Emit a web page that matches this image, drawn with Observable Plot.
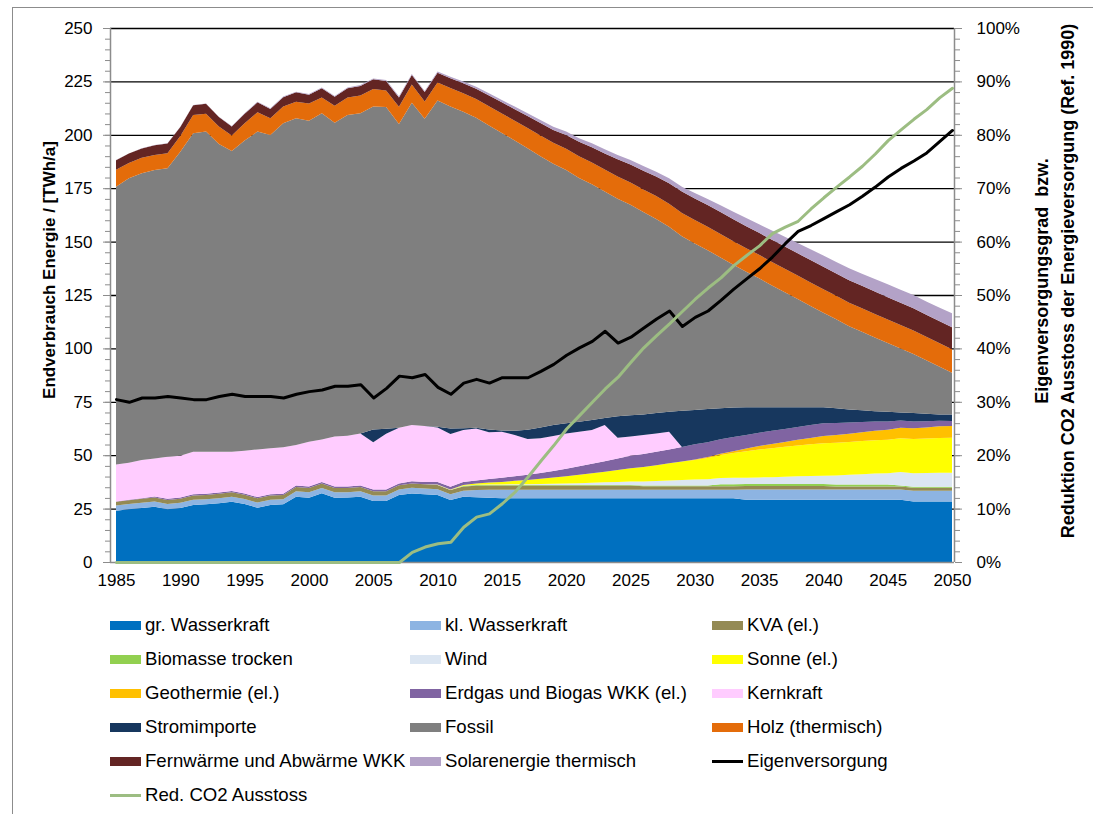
<!DOCTYPE html>
<html>
<head>
<meta charset="utf-8">
<script src="https://cdn.jsdelivr.net/npm/d3@7"></script>
<script src="https://cdn.jsdelivr.net/npm/@observablehq/plot@0.6"></script>
<style>
html, body { margin:0; padding:0; background:#fff; overflow:hidden; }
#wrap { position:relative; width:1093px; height:814px; overflow:hidden; font-family:"Liberation Sans", Arial, sans-serif; color:#000; }
#frame { position:absolute; left:12px; top:7px; width:1200px; height:1000px; border:1px solid #8c8c8c; box-sizing:border-box; }
#chart { position:absolute; left:0; top:0; }
.ytl { position:absolute; left:50px; top:270px; transform:translate(-50%,-50%) rotate(-90deg); white-space:nowrap; font-weight:bold; font-size:17px; }
.ytr { position:absolute; left:1055px; top:281px; transform:translate(-50%,-50%) rotate(-90deg); white-space:nowrap; font-weight:bold; font-size:18px; line-height:26px; text-align:center; }
.lg { position:absolute; height:20px; display:flex; align-items:center; white-space:nowrap; font-size:18.6px; }
.sw { display:inline-block; width:31px; height:9px; margin-right:4px; flex:none; }
.ln { display:inline-block; width:31px; height:3px; margin-right:4px; flex:none; }
</style>
</head>
<body>
<div id="wrap">
  <div id="frame"></div>
  <div id="chart"></div>
  <div class="ytl">Endverbrauch Energie / [TWh/a]</div>
  <div class="ytr">Eigenversorgungsgrad&nbsp; bzw.<br>Reduktion CO2 Ausstoss der Energieversorgung (Ref. 1990)</div>
  <div id="legend"></div>
</div>
<script>
// ---------- data (TWh/a per year 1985..2050) ----------
const years = d3.range(1985, 2051);

const seriesNames = ["gr. Wasserkraft", "kl. Wasserkraft", "KVA  (el.)", "Biomasse trocken", "Wind",
  "Sonne (el.)", "Geothermie  (el.)", "Erdgas und Biogas WKK (el.)", "Kernkraft", "Stromimporte",
  "Fossil", "Holz (thermisch)", "Fernwärme und Abwärme WKK", "Solarenergie thermisch"];
const seriesColors = ["#0070C0", "#8DB4E2", "#948A54", "#92D050", "#DCE6F2",
  "#FFFF00", "#FFC000", "#8064A2", "#FFCCFF", "#17375E",
  "#7F7F7F", "#E46C0A", "#632523", "#B3A2C7"];

const grWasser = [24.0,24.7,25.3,25.9,24.7,25.3,26.7,27.0,27.5,28.2,
  27.1,25.4,26.7,27.0,30.6,30.1,32.2,30.1,30.2,30.6,
  28.6,28.6,31.4,32.1,31.7,31.4,29.0,30.6,30.3,30.1,
  29.8,29.8,29.8,29.8,29.8,29.8,29.8,29.8,29.8,29.8,
  29.8,29.8,29.8,29.8,29.8,29.8,29.8,29.8,29.8,
  29.1,29.1,29.1,29.1,29.1,29.1,29.1,29.1,29.1,29.1,29.1,29.1,29.1,
  28.3,28.3,28.3,28.3];
const klWasser = [2.4,2.4,2.4,2.4,2.4,2.4,2.4,2.4,2.4,2.4,2.4,2.4,2.4,2.4,
  2.5,2.5,2.5,2.5,2.5,2.5,2.5,2.5,2.5,
  2.7,2.7,2.7,2.7,2.7,
  3.4,3.7,
  4.0,4.0,4.0,4.0,4.0,4.0,4.0,4.0,4.0,4.0,4.0,4.0,4.0,4.0,4.0,4.0,4.0,4.0,4.0,
  4.8,4.8,4.8,4.8,4.8,4.8,4.8,4.8,4.8,4.8,4.8,4.8,4.8,
  5.0,5.0,5.0,5.0];
const kva = [1.8,1.8,1.9,1.9,1.9,1.9,
  2.0,2.0,2.0,2.0,2.0,2.0,2.0,2.0,2.0,2.0,2.0,2.0,2.0,2.0,2.0,2.0,2.0,2.0,2.0,2.0,
  2.0,2.0,2.0,2.0,2.0,2.0,2.0,2.0,2.0,2.0,2.0,2.0,2.0,2.0,2.0,
  1.7,1.7,1.7,1.7,1.7,1.7,1.7,1.7,1.7,1.7,1.7,1.7,1.7,1.7,1.7,
  1.5,1.5,1.5,1.5,1.5,1.5,1.5,1.5,1.5,1.5];
const biomasse = [0,0,0,0,0,0,0,0,0,0,0,0,0,0,0,0,0,0,0,0,0,0,0,0,0,0,0,
  0.3,0.3,0.3,0.3,0.3,0.3,0.3,0.3,0.3,0.3,0.3,0.3,0.3,0.3,0.3,0.3,0.3,0.3,0.3,0.3,
  0.9,0.9,0.9,0.9,0.9,0.9,0.9,0.9,0.9,0.9,0.9,0.9,0.9,0.9,
  0.4,0.4,0.4,0.4,0.4];
const wind = [0,0,0,0,0,0,0,0,0,0,0,0,0,0,0,0,0,0,0,0,0,0,0,0,0,
  0.1,0.1,0.1,0.15,0.2,0.2,0.3,0.3,0.4,0.5,0.6,
  0.8,1.0,1.2,1.4,1.6,1.9,2.1,2.4,2.6,2.8,
  2.9,2.9,3.0,3.0,3.1,3.2,3.4,3.6,3.8,3.9,
  4.2,4.5,4.8,5.1,5.3,6.3,6.4,6.5,6.6,6.6];
const sonne = [0,0,0,0,0,0,0,0,0,0,0,0,0,0,0,0,0,0,0,0,0,0,0,0,0,
  0.1,0.2,0.4,0.6,0.9,1.2,1.6,2.0,2.5,3.0,3.5,
  4.0,4.5,5.0,5.6,6.2,6.8,7.4,8.0,8.6,9.2,
  10.0,10.8,11.6,12.4,13.1,13.5,14.0,14.4,14.8,15.2,
  15.3,15.4,15.5,15.6,15.6,15.8,16.0,16.1,16.3,16.4];
const geothermie = [0,0,0,0,0,0,0,0,0,0,0,0,0,0,0,0,0,0,0,0,0,0,0,0,0,
  0,0,0,0,0,0,0,0,0,0,0,0,0,0,0,0,0,0,0,0,
  0.2,0.4,0.6,0.9,1.2,1.6,2.0,2.3,2.7,3.0,3.4,
  3.7,3.9,4.2,4.5,4.7,4.9,5.0,5.2,5.4,5.5];
const erdgasWKK = [0.1,0.2,0.3,0.5,0.6,0.6,0.6,0.6,0.6,0.6,0.6,0.6,0.6,0.6,
  0.7,0.7,0.7,0.7,0.7,0.7,0.9,0.9,0.9,
  1.0,1.0,1.1,1.2,1.3,1.4,1.6,1.9,2.2,2.4,
  2.7,3.0,3.4,3.9,4.4,4.9,5.4,5.9,6.1,6.3,
  6.5,6.8,7.1,7.0,6.8,6.6,6.4,6.2,6.2,6.1,
  6.0,6.0,5.9,5.6,5.2,4.8,4.3,3.9,3.5,3.2,2.9,2.6,2.3];
const kernkraft = [17.4,17.4,17.9,17.8,19.7,19.6,19.9,19.6,19.1,18.4,
  20.0,22.3,21.5,21.7,19.0,21.0,20.0,23.4,23.7,24.4,
  22.1,26.1,26.0,26.3,26.3,25.6,24.7,24.4,24.4,21.9,
  21.6,19.2,16.8,16.2,16.4,16.6,16.2,15.8,16.9,9.7,
  8.9,8.8,8.6,8.3,
  0,0,0,0,0,0,0,0,0,0,0,0,0,0,0,0,0,0,0,0,0,0];
const stromimporte = [0,0,0,0,0,0,0,0,0,0,0,0,0,0,0,0,0,0,0,0,
  5.9,2.3,0,0,0,0.3,2.6,0.8,0.3,1.3,
  0.6,2.0,4.3,5.1,5.1,4.8,4.7,4.7,3.3,10.0,
  10.0,9.7,9.6,9.4,17.0,16.1,15.5,14.5,13.8,12.9,
  11.9,11.0,10.1,9.2,8.3,7.5,6.9,6.1,5.4,4.8,
  4.5,3.7,3.9,3.5,3.0,3.1];
const fossil = [130.0,133.1,134.2,135.0,135.0,142.3,149.1,149.9,144.1,140.8,
  145.2,148.8,146.7,151.7,152.9,150.3,152.7,147.0,150.2,149.9,
  151.2,150.6,142.2,150.9,143.8,152.7,150.7,148.2,145.1,142.4,
  139.3,135.9,131.8,127.0,122.4,118.5,114.1,110.3,106.0,101.9,
  98.5,94.7,90.8,86.5,81.7,77.9,74.3,70.6,66.9,63.5,
  60.4,57.1,53.9,50.7,47.5,44.3,41.6,39.0,36.8,34.5,
  32.2,30.0,27.7,25.0,22.4,19.5];
const holz = [7.9,7.2,7.2,7.1,7.1,7.3,8.6,8.4,8.2,7.3,
  8.1,9.0,7.9,7.8,7.8,8.0,7.4,7.9,8.2,8.3,
  8.3,7.7,8.1,8.5,8.1,8.5,8.7,8.6,8.8,9.0,
  9.1,9.3,9.5,9.7,9.8,10.0,10.1,10.2,10.3,10.4,
  10.5,10.6,10.7,10.8,10.9,
  11.0,11.0,11.0,11.0,11.0,11.0,11.0,11.0,11.0,11.0,11.0,11.0,11.0,11.0,11.0,11.0,11.0,11.0,11.0,11.0,11.0];
const fernwaerme = [4.5,4.4,4.4,4.5,4.5,4.3,4.5,4.6,4.4,4.2,
  4.5,4.7,4.3,4.4,4.4,4.2,4.3,4.2,4.3,4.5,
  4.5,4.5,4.4,4.5,4.4,4.5,4.6,4.7,4.8,5.0,
  5.2,5.4,5.6,5.8,6.0,6.4,6.8,7.2,7.6,8.0,
  8.4,8.8,9.2,9.6,10.0,10.1,10.2,10.2,10.3,10.3,
  10.3,10.4,10.4,10.4,10.5,10.5,10.5,10.5,10.5,10.5,
  10.5,10.4,10.4,10.3,10.3,10.3];
const solarThermisch = [0.1,0.1,0.1,0.1,0.1,0.1,0.2,0.2,0.2,0.2,0.2,
  0.3,0.3,0.3,0.3,0.3,0.4,0.4,0.4,0.4,0.4,0.5,0.5,0.5,0.5,
  0.6,0.7,0.8,0.9,1.0,1.1,1.2,1.3,1.4,1.5,
  1.6,1.7,1.8,1.9,2.0,2.1,2.2,2.2,2.3,2.3,
  2.6,2.9,3.2,3.5,3.8,4.0,4.3,4.6,4.8,5.0,
  5.3,5.4,5.6,5.7,5.9,6.0,6.1,6.2,6.3,6.4,6.5];

// percent series (right axis)
const eigenversorgung = [30.5,30.0,30.8,30.8,31.1,30.8,30.5,30.5,31.1,31.5,
  31.1,31.1,31.1,30.8,31.5,32.0,32.3,33.0,33.0,33.3,
  30.8,32.6,34.9,34.6,35.2,32.8,31.5,33.6,34.3,33.6,
  34.6,34.6,34.6,35.8,37.1,38.8,40.2,41.4,43.3,41.1,
  42.2,43.9,45.6,47.1,44.2,45.9,47.1,49.1,51.2,53.1,
  55.0,57.2,59.7,62.0,63.1,64.4,65.7,67.0,68.6,70.3,
  72.2,73.8,75.2,76.7,78.8,80.9];
const redCO2 = [0,0,0,0,0,0,0,0,0,0,0,0,0,0,0,0,0,0,0,0,0,0,0,
  1.9,2.9,3.5,3.8,6.6,8.5,9.1,11.0,13.2,16.0,
  19.0,21.9,25.0,27.5,30.0,32.5,34.7,37.5,40.2,42.5,
  44.7,47.0,49.3,51.4,53.3,55.6,57.5,59.3,61.6,62.8,
  63.9,66.2,68.3,70.3,72.2,74.2,76.5,79.0,81.0,83.0,84.8,87.0,88.8];

const lineNames = ["Eigenversorgung", "Red. CO2 Ausstoss"];
const lineColors = ["#000000", "#9CBD82"];

const leftTicks = d3.range(0, 251, 25);
const xTicks = d3.range(1985, 2051, 5);

// ---------- build table ----------
const seriesValues = [grWasser, klWasser, kva, biomasse, wind, sonne, geothermie, erdgasWKK,
  kernkraft, stromimporte, fossil, holz, fernwaerme, solarThermisch];
const table = [];
seriesNames.forEach((s, i) => years.forEach((yr, j) => table.push({series: s, year: yr, value: seriesValues[i][j]})));
const lineTable = years.map((yr, j) => ({year: yr, eig: eigenversorgung[j], co2: redCO2[j]}));

const PCT = 2.5; // 100 % on right axis == 250 TWh on left axis
const x0 = 1985 - 6 / 12.862, x1 = 2050 + 2 / 12.862;

const chart = Plot.plot({
  width: 1093,
  height: 600,
  marginLeft: 110,
  marginRight: 139,
  marginTop: 28,
  marginBottom: 38,
  x: {domain: [x0, x1]},
  y: {domain: [0, 250]},
  color: {domain: seriesNames, range: seriesColors},
  style: {fontFamily: "'Liberation Sans', Arial, sans-serif", fontSize: "17px", background: "transparent", color: "#000"},
  marks: [
    Plot.ruleY(d3.range(25, 251, 25), {stroke: "#000", strokeWidth: 1.3}),
    Plot.areaY(table, Plot.stackY({x: "year", y: "value", z: "series", fill: "series", order: seriesNames})),
    Plot.ruleX([x0], {stroke: "#8c8c8c", strokeWidth: 1.5}),
    Plot.ruleX([x1], {stroke: "#8c8c8c", strokeWidth: 1.5}),
    Plot.ruleY([0], {stroke: "#8c8c8c", strokeWidth: 1.5}),
    Plot.axisY(d3.range(0, 251, 5), {anchor: "left", tickSize: 5, text: null, stroke: "#8c8c8c", label: null}),
    Plot.axisY(leftTicks, {anchor: "left", tickSize: 7, tickPadding: 11, stroke: "#8c8c8c", fill: "#000", label: null}),
    Plot.axisY(d3.range(0, 251, 5), {anchor: "right", tickSize: 5, text: null, stroke: "#8c8c8c", label: null}),
    Plot.axisY(leftTicks, {anchor: "right", tickSize: 7, tickPadding: 15, stroke: "#8c8c8c", fill: "#000", label: null,
      tickFormat: d => Math.round(d / PCT) + "%"}),
    Plot.axisX(xTicks, {anchor: "bottom", tickSize: 0, tickPadding: 11, label: null, fill: "#000", tickFormat: d => String(d)}),
    Plot.lineY(lineTable, {x: "year", y: d => d.eig * PCT, stroke: lineColors[0], strokeWidth: 3}),
    Plot.lineY(lineTable, {x: "year", y: d => d.co2 * PCT, stroke: lineColors[1], strokeWidth: 3})
  ]
});
document.getElementById("chart").appendChild(chart);

// ---------- legend ----------
const legend = document.getElementById("legend");
const items = seriesNames.map((n, i) => ({name: n, color: seriesColors[i], type: "area"}))
  .concat(lineNames.map((n, i) => ({name: n, color: lineColors[i], type: "line"})));
const colX = [110, 410, 712];
items.forEach((it, i) => {
  const r = Math.floor(i / 3), c = i % 3;
  const div = document.createElement("div");
  div.className = "lg";
  div.style.left = colX[c] + "px";
  div.style.top = (625 + 34 * r - 10) + "px";
  const sw = document.createElement("span");
  sw.className = it.type === "area" ? "sw" : "ln";
  sw.style.background = it.color;
  const tx = document.createElement("span");
  tx.textContent = it.name;
  div.appendChild(sw);
  div.appendChild(tx);
  legend.appendChild(div);
});
</script>
</body>
</html>
